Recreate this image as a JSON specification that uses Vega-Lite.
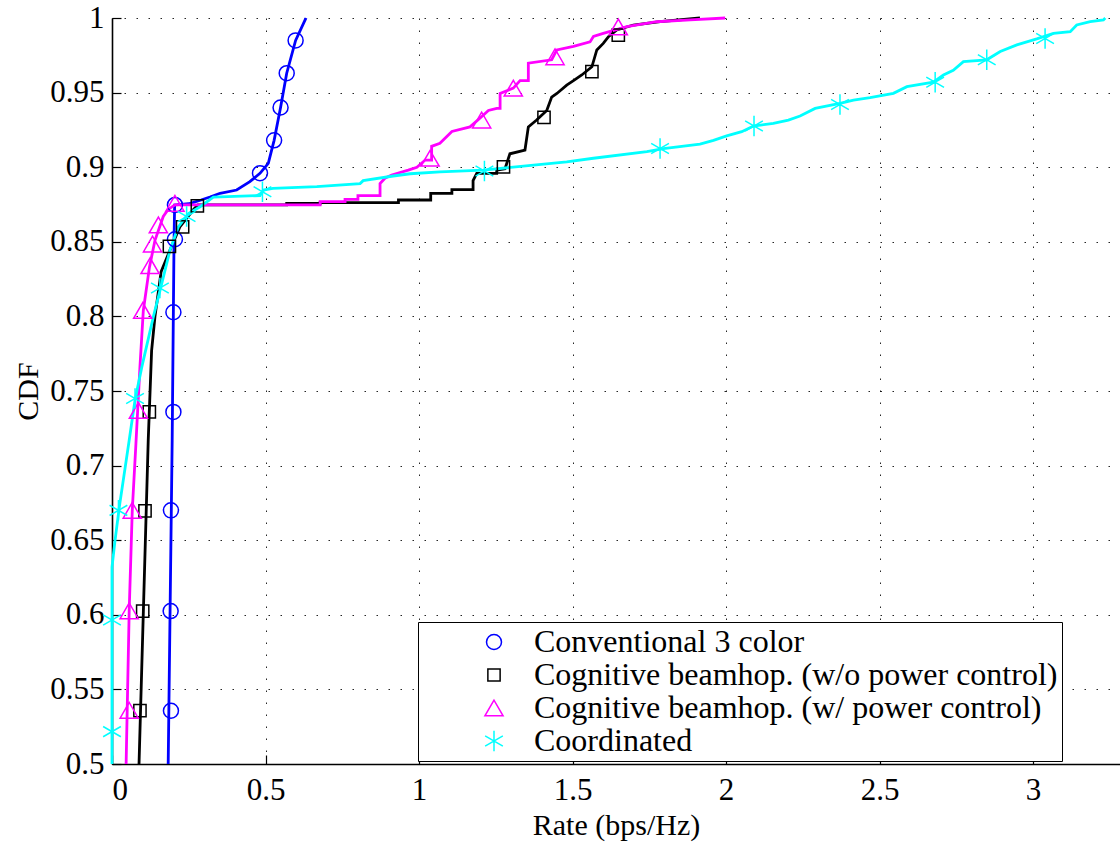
{
  "$schema": "https://vega.github.io/schema/vega-lite/v6.json",
  "width": 1008,
  "height": 746,
  "autosize": {"type": "none"},
  "padding": {"left": 112, "top": 18, "right": 0, "bottom": 80},
  "background": "white",
  "config": {
    "font": "Liberation Serif",
    "view": {"stroke": null},
    "axis": {
      "labelFont": "Liberation Serif", "labelFontSize": 31, "labelColor": "black",
      "titleFont": "Liberation Serif", "titleFontSize": 30, "titleFontWeight": "normal", "titleColor": "black",
      "domain": true, "domainColor": "black", "domainWidth": 1.6,
      "ticks": true, "tickColor": "black", "tickSize": -9, "tickWidth": 1.2,
      "grid": true, "gridColor": "black", "gridDash": [1.5, 10.5], "gridWidth": 1, "gridOpacity": 0.85
    },
    "legend": {
      "labelFont": "Liberation Serif", "labelFontSize": 32, "labelColor": "black", "labelLimit": 900,
      "strokeColor": "black", "fillColor": "white", "padding": 4, "rowPadding": 1,
      "symbolOffset": 56, "labelOffset": 24, "symbolStrokeWidth": 1.5
    }
  },
  "datasets": {
    "lines": [
      {"curve": "Conventional 3 color", "x": 0.183, "y": 0.5},
      {"curve": "Conventional 3 color", "x": 0.196, "y": 0.717},
      {"curve": "Conventional 3 color", "x": 0.202, "y": 0.85},
      {"curve": "Conventional 3 color", "x": 0.204, "y": 0.8747},
      {"curve": "Conventional 3 color", "x": 0.25, "y": 0.8755},
      {"curve": "Conventional 3 color", "x": 0.29, "y": 0.878},
      {"curve": "Conventional 3 color", "x": 0.319, "y": 0.88},
      {"curve": "Conventional 3 color", "x": 0.352, "y": 0.8825},
      {"curve": "Conventional 3 color", "x": 0.406, "y": 0.8847},
      {"curve": "Conventional 3 color", "x": 0.449, "y": 0.8903},
      {"curve": "Conventional 3 color", "x": 0.482, "y": 0.8959},
      {"curve": "Conventional 3 color", "x": 0.509, "y": 0.9026},
      {"curve": "Conventional 3 color", "x": 0.528, "y": 0.918},
      {"curve": "Conventional 3 color", "x": 0.549, "y": 0.94},
      {"curve": "Conventional 3 color", "x": 0.569, "y": 0.963},
      {"curve": "Conventional 3 color", "x": 0.598, "y": 0.985},
      {"curve": "Conventional 3 color", "x": 0.629, "y": 0.9987},
      {"curve": "Conventional 3 color", "x": 0.632, "y": 1.0},

      {"curve": "Cognitive beamhop. (w/o power control)", "x": 0.088, "y": 0.5},
      {"curve": "Cognitive beamhop. (w/o power control)", "x": 0.118, "y": 0.717},
      {"curve": "Cognitive beamhop. (w/o power control)", "x": 0.129, "y": 0.777},
      {"curve": "Cognitive beamhop. (w/o power control)", "x": 0.14, "y": 0.8},
      {"curve": "Cognitive beamhop. (w/o power control)", "x": 0.16, "y": 0.83},
      {"curve": "Cognitive beamhop. (w/o power control)", "x": 0.189, "y": 0.8445},
      {"curve": "Cognitive beamhop. (w/o power control)", "x": 0.221, "y": 0.86},
      {"curve": "Cognitive beamhop. (w/o power control)", "x": 0.264, "y": 0.8713},
      {"curve": "Cognitive beamhop. (w/o power control)", "x": 0.28, "y": 0.8747},
      {"curve": "Cognitive beamhop. (w/o power control)", "x": 0.569, "y": 0.8747},
      {"curve": "Cognitive beamhop. (w/o power control)", "x": 0.569, "y": 0.8758},
      {"curve": "Cognitive beamhop. (w/o power control)", "x": 0.678, "y": 0.8758},
      {"curve": "Cognitive beamhop. (w/o power control)", "x": 0.678, "y": 0.8762},
      {"curve": "Cognitive beamhop. (w/o power control)", "x": 0.933, "y": 0.8762},
      {"curve": "Cognitive beamhop. (w/o power control)", "x": 0.933, "y": 0.878},
      {"curve": "Cognitive beamhop. (w/o power control)", "x": 1.038, "y": 0.878},
      {"curve": "Cognitive beamhop. (w/o power control)", "x": 1.038, "y": 0.8825},
      {"curve": "Cognitive beamhop. (w/o power control)", "x": 1.107, "y": 0.8825},
      {"curve": "Cognitive beamhop. (w/o power control)", "x": 1.107, "y": 0.885},
      {"curve": "Cognitive beamhop. (w/o power control)", "x": 1.176, "y": 0.885},
      {"curve": "Cognitive beamhop. (w/o power control)", "x": 1.176, "y": 0.891},
      {"curve": "Cognitive beamhop. (w/o power control)", "x": 1.188, "y": 0.8959},
      {"curve": "Cognitive beamhop. (w/o power control)", "x": 1.253, "y": 0.8959},
      {"curve": "Cognitive beamhop. (w/o power control)", "x": 1.253, "y": 0.898},
      {"curve": "Cognitive beamhop. (w/o power control)", "x": 1.28, "y": 0.899},
      {"curve": "Cognitive beamhop. (w/o power control)", "x": 1.296, "y": 0.909},
      {"curve": "Cognitive beamhop. (w/o power control)", "x": 1.345, "y": 0.9115},
      {"curve": "Cognitive beamhop. (w/o power control)", "x": 1.356, "y": 0.927},
      {"curve": "Cognitive beamhop. (w/o power control)", "x": 1.383, "y": 0.9316},
      {"curve": "Cognitive beamhop. (w/o power control)", "x": 1.416, "y": 0.938},
      {"curve": "Cognitive beamhop. (w/o power control)", "x": 1.432, "y": 0.947},
      {"curve": "Cognitive beamhop. (w/o power control)", "x": 1.449, "y": 0.9494},
      {"curve": "Cognitive beamhop. (w/o power control)", "x": 1.481, "y": 0.955},
      {"curve": "Cognitive beamhop. (w/o power control)", "x": 1.503, "y": 0.958},
      {"curve": "Cognitive beamhop. (w/o power control)", "x": 1.53, "y": 0.9618},
      {"curve": "Cognitive beamhop. (w/o power control)", "x": 1.563, "y": 0.9673},
      {"curve": "Cognitive beamhop. (w/o power control)", "x": 1.579, "y": 0.9786},
      {"curve": "Cognitive beamhop. (w/o power control)", "x": 1.6, "y": 0.983},
      {"curve": "Cognitive beamhop. (w/o power control)", "x": 1.617, "y": 0.9875},
      {"curve": "Cognitive beamhop. (w/o power control)", "x": 1.644, "y": 0.992},
      {"curve": "Cognitive beamhop. (w/o power control)", "x": 1.698, "y": 0.9953},
      {"curve": "Cognitive beamhop. (w/o power control)", "x": 1.785, "y": 0.9975},
      {"curve": "Cognitive beamhop. (w/o power control)", "x": 1.915, "y": 1.0},

      {"curve": "Cognitive beamhop. (w/ power control)", "x": 0.046, "y": 0.5},
      {"curve": "Cognitive beamhop. (w/ power control)", "x": 0.056, "y": 0.6027},
      {"curve": "Cognitive beamhop. (w/ power control)", "x": 0.066, "y": 0.67},
      {"curve": "Cognitive beamhop. (w/ power control)", "x": 0.078, "y": 0.715},
      {"curve": "Cognitive beamhop. (w/ power control)", "x": 0.091, "y": 0.766},
      {"curve": "Cognitive beamhop. (w/ power control)", "x": 0.102, "y": 0.804},
      {"curve": "Cognitive beamhop. (w/ power control)", "x": 0.122, "y": 0.833},
      {"curve": "Cognitive beamhop. (w/ power control)", "x": 0.14, "y": 0.851},
      {"curve": "Cognitive beamhop. (w/ power control)", "x": 0.167, "y": 0.867},
      {"curve": "Cognitive beamhop. (w/ power control)", "x": 0.183, "y": 0.8717},
      {"curve": "Cognitive beamhop. (w/ power control)", "x": 0.205, "y": 0.8747},
      {"curve": "Cognitive beamhop. (w/ power control)", "x": 0.678, "y": 0.8747},
      {"curve": "Cognitive beamhop. (w/ power control)", "x": 0.678, "y": 0.8769},
      {"curve": "Cognitive beamhop. (w/ power control)", "x": 0.759, "y": 0.8769},
      {"curve": "Cognitive beamhop. (w/ power control)", "x": 0.759, "y": 0.8785},
      {"curve": "Cognitive beamhop. (w/ power control)", "x": 0.801, "y": 0.8785},
      {"curve": "Cognitive beamhop. (w/ power control)", "x": 0.801, "y": 0.881},
      {"curve": "Cognitive beamhop. (w/ power control)", "x": 0.873, "y": 0.881},
      {"curve": "Cognitive beamhop. (w/ power control)", "x": 0.873, "y": 0.889},
      {"curve": "Cognitive beamhop. (w/ power control)", "x": 0.889, "y": 0.8926},
      {"curve": "Cognitive beamhop. (w/ power control)", "x": 0.911, "y": 0.8948},
      {"curve": "Cognitive beamhop. (w/ power control)", "x": 0.965, "y": 0.898},
      {"curve": "Cognitive beamhop. (w/ power control)", "x": 0.993, "y": 0.9},
      {"curve": "Cognitive beamhop. (w/ power control)", "x": 1.02, "y": 0.9048},
      {"curve": "Cognitive beamhop. (w/ power control)", "x": 1.041, "y": 0.9048},
      {"curve": "Cognitive beamhop. (w/ power control)", "x": 1.041, "y": 0.914},
      {"curve": "Cognitive beamhop. (w/ power control)", "x": 1.068, "y": 0.916},
      {"curve": "Cognitive beamhop. (w/ power control)", "x": 1.107, "y": 0.924},
      {"curve": "Cognitive beamhop. (w/ power control)", "x": 1.166, "y": 0.927},
      {"curve": "Cognitive beamhop. (w/ power control)", "x": 1.199, "y": 0.933},
      {"curve": "Cognitive beamhop. (w/ power control)", "x": 1.226, "y": 0.938},
      {"curve": "Cognitive beamhop. (w/ power control)", "x": 1.253, "y": 0.9394},
      {"curve": "Cognitive beamhop. (w/ power control)", "x": 1.264, "y": 0.9394},
      {"curve": "Cognitive beamhop. (w/ power control)", "x": 1.264, "y": 0.9494},
      {"curve": "Cognitive beamhop. (w/ power control)", "x": 1.307, "y": 0.953},
      {"curve": "Cognitive beamhop. (w/ power control)", "x": 1.329, "y": 0.958},
      {"curve": "Cognitive beamhop. (w/ power control)", "x": 1.356, "y": 0.958},
      {"curve": "Cognitive beamhop. (w/ power control)", "x": 1.356, "y": 0.9697},
      {"curve": "Cognitive beamhop. (w/ power control)", "x": 1.432, "y": 0.972},
      {"curve": "Cognitive beamhop. (w/ power control)", "x": 1.449, "y": 0.9786},
      {"curve": "Cognitive beamhop. (w/ power control)", "x": 1.503, "y": 0.981},
      {"curve": "Cognitive beamhop. (w/ power control)", "x": 1.557, "y": 0.984},
      {"curve": "Cognitive beamhop. (w/ power control)", "x": 1.568, "y": 0.9876},
      {"curve": "Cognitive beamhop. (w/ power control)", "x": 1.6, "y": 0.9897},
      {"curve": "Cognitive beamhop. (w/ power control)", "x": 1.677, "y": 0.9942},
      {"curve": "Cognitive beamhop. (w/ power control)", "x": 1.774, "y": 0.9975},
      {"curve": "Cognitive beamhop. (w/ power control)", "x": 1.883, "y": 0.9987},
      {"curve": "Cognitive beamhop. (w/ power control)", "x": 1.997, "y": 1.0},

      {"curve": "Coordinated", "x": 0.0, "y": 0.5},
      {"curve": "Coordinated", "x": 0.0, "y": 0.632},
      {"curve": "Coordinated", "x": 0.01, "y": 0.65},
      {"curve": "Coordinated", "x": 0.024, "y": 0.6725},
      {"curve": "Coordinated", "x": 0.056, "y": 0.717},
      {"curve": "Coordinated", "x": 0.075, "y": 0.744},
      {"curve": "Coordinated", "x": 0.097, "y": 0.766},
      {"curve": "Coordinated", "x": 0.135, "y": 0.8},
      {"curve": "Coordinated", "x": 0.162, "y": 0.822},
      {"curve": "Coordinated", "x": 0.189, "y": 0.8445},
      {"curve": "Coordinated", "x": 0.216, "y": 0.86},
      {"curve": "Coordinated", "x": 0.249, "y": 0.869},
      {"curve": "Coordinated", "x": 0.287, "y": 0.8735},
      {"curve": "Coordinated", "x": 0.33, "y": 0.88},
      {"curve": "Coordinated", "x": 0.482, "y": 0.881},
      {"curve": "Coordinated", "x": 0.493, "y": 0.8847},
      {"curve": "Coordinated", "x": 0.524, "y": 0.8858},
      {"curve": "Coordinated", "x": 0.667, "y": 0.887},
      {"curve": "Coordinated", "x": 0.808, "y": 0.889},
      {"curve": "Coordinated", "x": 0.818, "y": 0.891},
      {"curve": "Coordinated", "x": 0.916, "y": 0.8941},
      {"curve": "Coordinated", "x": 0.971, "y": 0.8956},
      {"curve": "Coordinated", "x": 1.068, "y": 0.8968},
      {"curve": "Coordinated", "x": 1.209, "y": 0.898},
      {"curve": "Coordinated", "x": 1.481, "y": 0.9036},
      {"curve": "Coordinated", "x": 1.568, "y": 0.906},
      {"curve": "Coordinated", "x": 1.742, "y": 0.9105},
      {"curve": "Coordinated", "x": 1.796, "y": 0.9125},
      {"curve": "Coordinated", "x": 1.915, "y": 0.9155},
      {"curve": "Coordinated", "x": 1.959, "y": 0.918},
      {"curve": "Coordinated", "x": 2.002, "y": 0.921},
      {"curve": "Coordinated", "x": 2.051, "y": 0.9238},
      {"curve": "Coordinated", "x": 2.089, "y": 0.9276},
      {"curve": "Coordinated", "x": 2.154, "y": 0.9294},
      {"curve": "Coordinated", "x": 2.203, "y": 0.9316},
      {"curve": "Coordinated", "x": 2.241, "y": 0.9343},
      {"curve": "Coordinated", "x": 2.29, "y": 0.9394},
      {"curve": "Coordinated", "x": 2.371, "y": 0.9428},
      {"curve": "Coordinated", "x": 2.415, "y": 0.945},
      {"curve": "Coordinated", "x": 2.469, "y": 0.9466},
      {"curve": "Coordinated", "x": 2.545, "y": 0.9495},
      {"curve": "Coordinated", "x": 2.589, "y": 0.954},
      {"curve": "Coordinated", "x": 2.675, "y": 0.957},
      {"curve": "Coordinated", "x": 2.708, "y": 0.9618},
      {"curve": "Coordinated", "x": 2.74, "y": 0.965},
      {"curve": "Coordinated", "x": 2.773, "y": 0.9708},
      {"curve": "Coordinated", "x": 2.849, "y": 0.972},
      {"curve": "Coordinated", "x": 2.893, "y": 0.9775},
      {"curve": "Coordinated", "x": 2.947, "y": 0.982},
      {"curve": "Coordinated", "x": 3.012, "y": 0.986},
      {"curve": "Coordinated", "x": 3.066, "y": 0.9897},
      {"curve": "Coordinated", "x": 3.121, "y": 0.9908},
      {"curve": "Coordinated", "x": 3.142, "y": 0.9953},
      {"curve": "Coordinated", "x": 3.186, "y": 0.9975},
      {"curve": "Coordinated", "x": 3.229, "y": 0.9987},
      {"curve": "Coordinated", "x": 3.235, "y": 1.0}
    ],
    "markers": [
      {"series": "Conventional 3 color", "x": 0.192, "y": 0.5357},
      {"series": "Conventional 3 color", "x": 0.191, "y": 0.6025},
      {"series": "Conventional 3 color", "x": 0.192, "y": 0.67},
      {"series": "Conventional 3 color", "x": 0.2, "y": 0.736},
      {"series": "Conventional 3 color", "x": 0.2, "y": 0.8028},
      {"series": "Conventional 3 color", "x": 0.205, "y": 0.8517},
      {"series": "Conventional 3 color", "x": 0.205, "y": 0.8747},
      {"series": "Conventional 3 color", "x": 0.482, "y": 0.896},
      {"series": "Conventional 3 color", "x": 0.528, "y": 0.918},
      {"series": "Conventional 3 color", "x": 0.549, "y": 0.94},
      {"series": "Conventional 3 color", "x": 0.569, "y": 0.963},
      {"series": "Conventional 3 color", "x": 0.598, "y": 0.985},
      {"series": "Cognitive beamhop. (w/o power control)", "x": 0.091, "y": 0.5357},
      {"series": "Cognitive beamhop. (w/o power control)", "x": 0.1, "y": 0.6025},
      {"series": "Cognitive beamhop. (w/o power control)", "x": 0.1075, "y": 0.6696},
      {"series": "Cognitive beamhop. (w/o power control)", "x": 0.1216, "y": 0.736},
      {"series": "Cognitive beamhop. (w/o power control)", "x": 0.187, "y": 0.847},
      {"series": "Cognitive beamhop. (w/o power control)", "x": 0.23, "y": 0.86},
      {"series": "Cognitive beamhop. (w/o power control)", "x": 0.278, "y": 0.874},
      {"series": "Cognitive beamhop. (w/o power control)", "x": 1.275, "y": 0.9002},
      {"series": "Cognitive beamhop. (w/o power control)", "x": 1.407, "y": 0.9334},
      {"series": "Cognitive beamhop. (w/o power control)", "x": 1.563, "y": 0.964},
      {"series": "Cognitive beamhop. (w/o power control)", "x": 1.649, "y": 0.9886},
      {"series": "Cognitive beamhop. (w/ power control)", "x": 0.056, "y": 0.536},
      {"series": "Cognitive beamhop. (w/ power control)", "x": 0.056, "y": 0.6027},
      {"series": "Cognitive beamhop. (w/ power control)", "x": 0.066, "y": 0.67},
      {"series": "Cognitive beamhop. (w/ power control)", "x": 0.086, "y": 0.737},
      {"series": "Cognitive beamhop. (w/ power control)", "x": 0.1, "y": 0.804},
      {"series": "Cognitive beamhop. (w/ power control)", "x": 0.124, "y": 0.834},
      {"series": "Cognitive beamhop. (w/ power control)", "x": 0.132, "y": 0.8485},
      {"series": "Cognitive beamhop. (w/ power control)", "x": 0.151, "y": 0.8613},
      {"series": "Cognitive beamhop. (w/ power control)", "x": 0.205, "y": 0.8758},
      {"series": "Cognitive beamhop. (w/ power control)", "x": 1.036, "y": 0.906},
      {"series": "Cognitive beamhop. (w/ power control)", "x": 1.204, "y": 0.9316},
      {"series": "Cognitive beamhop. (w/ power control)", "x": 1.307, "y": 0.953},
      {"series": "Cognitive beamhop. (w/ power control)", "x": 1.443, "y": 0.974},
      {"series": "Cognitive beamhop. (w/ power control)", "x": 1.649, "y": 0.994},
      {"series": "Coordinated", "x": 0.0, "y": 0.5217},
      {"series": "Coordinated", "x": 0.0, "y": 0.5965},
      {"series": "Coordinated", "x": 0.021, "y": 0.67},
      {"series": "Coordinated", "x": 0.075, "y": 0.745},
      {"series": "Coordinated", "x": 0.156, "y": 0.819},
      {"series": "Coordinated", "x": 0.243, "y": 0.867},
      {"series": "Coordinated", "x": 0.49, "y": 0.8836},
      {"series": "Coordinated", "x": 1.213, "y": 0.8975},
      {"series": "Coordinated", "x": 1.785, "y": 0.9125},
      {"series": "Coordinated", "x": 2.091, "y": 0.9276},
      {"series": "Coordinated", "x": 2.371, "y": 0.942},
      {"series": "Coordinated", "x": 2.681, "y": 0.957},
      {"series": "Coordinated", "x": 2.849, "y": 0.972},
      {"series": "Coordinated", "x": 3.039, "y": 0.9863}
    ]
  },
  "encoding": {
    "x": {
      "field": "x", "type": "quantitative",
      "scale": {"domain": [0, 3.283], "nice": false, "zero": false},
      "axis": {"values": [0, 0.5, 1, 1.5, 2, 2.5, 3], "format": "~g", "title": "Rate (bps/Hz)", "labelPadding": 20, "titlePadding": 5}
    },
    "y": {
      "field": "y", "type": "quantitative",
      "scale": {"domain": [0.5, 1], "nice": false, "zero": false},
      "axis": {"values": [0.5, 0.55, 0.6, 0.65, 0.7, 0.75, 0.8, 0.85, 0.9, 0.95, 1], "format": "~g", "title": "CDF", "labelPadding": 17, "titlePadding": 6}
    }
  },
  "layer": [
    {
      "data": {"name": "lines"},
      "transform": [{"filter": "datum.curve === 'Cognitive beamhop. (w/o power control)'"}],
      "mark": {"type": "line", "strokeWidth": 2.8, "color": "#000000"}
    },
    {
      "data": {"name": "lines"},
      "transform": [{"filter": "datum.curve === 'Conventional 3 color'"}],
      "mark": {"type": "line", "strokeWidth": 2.8, "color": "#0000ff"}
    },
    {
      "data": {"name": "lines"},
      "transform": [{"filter": "datum.curve === 'Cognitive beamhop. (w/ power control)'"}],
      "mark": {"type": "line", "strokeWidth": 2.8, "color": "#ff00ff"}
    },
    {
      "data": {"name": "lines"},
      "transform": [{"filter": "datum.curve === 'Coordinated'"}],
      "mark": {"type": "line", "strokeWidth": 2.8, "color": "#00ffff"}
    },
    {
      "data": {"name": "markers"},
      "mark": {"type": "point", "filled": false, "strokeWidth": 1.5, "opacity": 1},
      "encoding": {
        "color": {
          "field": "series", "type": "nominal",
          "scale": {
            "domain": ["Conventional 3 color", "Cognitive beamhop. (w/o power control)", "Cognitive beamhop. (w/ power control)", "Coordinated"],
            "range": ["#0000ff", "#000000", "#ff00ff", "#00ffff"]
          },
          "legend": {
            "title": null, "orient": "none", "legendX": 306, "legendY": 604,
            "labelFont": "Liberation Serif", "labelFontSize": 32, "labelColor": "black", "labelLimit": 900,
            "strokeColor": "black", "fillColor": "white", "padding": 4, "rowPadding": 1,
            "symbolOffset": 56, "labelOffset": 24, "symbolStrokeWidth": 1.5,
            "encode": {"labels": {"update": {"font": {"value": "Liberation Serif"}, "fontSize": {"value": 32}, "fill": {"value": "black"}}}}
          }
        },
        "shape": {
          "field": "series", "type": "nominal",
          "scale": {
            "domain": ["Conventional 3 color", "Cognitive beamhop. (w/o power control)", "Cognitive beamhop. (w/ power control)", "Coordinated"],
            "range": ["circle", "square", "triangle-up", "M0,-1L0,1M-0.866,-0.5L0.866,0.5M-0.866,0.5L0.866,-0.5"]
          },
          "legend": {
            "title": null, "orient": "none", "legendX": 306, "legendY": 604,
            "labelFont": "Liberation Serif", "labelFontSize": 32, "labelColor": "black", "labelLimit": 900,
            "strokeColor": "black", "fillColor": "white", "padding": 4, "rowPadding": 1,
            "symbolOffset": 56, "labelOffset": 24, "symbolStrokeWidth": 1.5,
            "encode": {"labels": {"update": {"font": {"value": "Liberation Serif"}, "fontSize": {"value": 32}, "fill": {"value": "black"}}}}
          }
        },
        "size": {
          "field": "series", "type": "nominal",
          "scale": {
            "type": "ordinal",
            "domain": ["Conventional 3 color", "Cognitive beamhop. (w/o power control)", "Cognitive beamhop. (w/ power control)", "Coordinated"],
            "range": [225, 150, 330, 420]
          },
          "legend": {
            "title": null, "orient": "none", "legendX": 306, "legendY": 604,
            "labelFont": "Liberation Serif", "labelFontSize": 32, "labelColor": "black", "labelLimit": 900,
            "strokeColor": "black", "fillColor": "white", "padding": 4, "rowPadding": 1,
            "symbolOffset": 56, "labelOffset": 24, "symbolStrokeWidth": 1.5,
            "encode": {"labels": {"update": {"font": {"value": "Liberation Serif"}, "fontSize": {"value": 32}, "fill": {"value": "black"}}}}
          }
        }
      }
    }
  ]
}
